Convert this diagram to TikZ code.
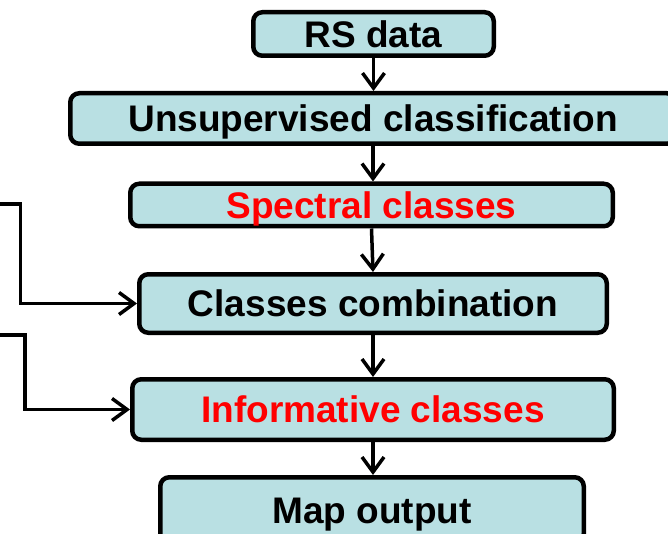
\documentclass[tikz,border=0pt]{standalone}
\usepackage{fontspec}
\setmainfont{Liberation Sans}
\usetikzlibrary{arrows.meta}
\definecolor{boxfill}{RGB}{185,224,227}
\definecolor{hilite}{RGB}{255,0,0}
\begin{document}
\begin{tikzpicture}[x=1pt,y=-1pt,
  stepbox/.style={draw=black, line width=4.5pt, fill=boxfill, rounded corners=9pt,
    inner sep=0pt, text height=26.5pt, text depth=0pt,
    font=\fontsize{37}{40}\selectfont\bfseries},
  flow/.style={draw=black, line width=3.5pt, -{Straight Barb[length=15pt,width=22pt]}},
  ]
\clip (0,0) rectangle (668,534);

% processing chain
\node[stepbox, minimum width=240.5pt, minimum height=43.5pt] (rs)    at (373.5,34)  {RS data};
\node[stepbox, minimum width=605.5pt, minimum height=50.5pt] (unsup) at (373,118.5) {Unsupervised classification};
\node[stepbox, minimum width=482.5pt, minimum height=42.5pt, text=hilite] (spec) at (371.5,205) {Spectral classes};
\node[stepbox, minimum width=467.5pt, minimum height=58.5pt] (comb)  at (373,303.5) {Classes combination};
\node[stepbox, minimum width=481.5pt, minimum height=60.5pt, text=hilite] (info) at (373,409.5) {Informative classes};
\node[stepbox, minimum width=423.5pt, minimum height=65.5pt] (map)   at (372,510)   {Map output};

% vertical flow
\draw[flow] (rs.south)    -- (rs.south |- unsup.north);
\draw[flow] (unsup.south) -- (unsup.south |- spec.north);
\draw[flow] (spec.south)  -- (comb.north);
\draw[flow] (comb.south)  -- (comb.south |- info.north);
\draw[flow] (info.south)  -- (info.south |- map.north);

% inputs entering from the left
\coordinate (inA) at (-5,204);
\coordinate (inB) at (-5,335);
\draw[flow] (inA) -- (20.5,204) -- (20.5,303.5) -- (comb.west);
\draw[flow] (inB) -- (25,335) -- (25,409.5) -- (info.west);
\end{tikzpicture}
\end{document}
